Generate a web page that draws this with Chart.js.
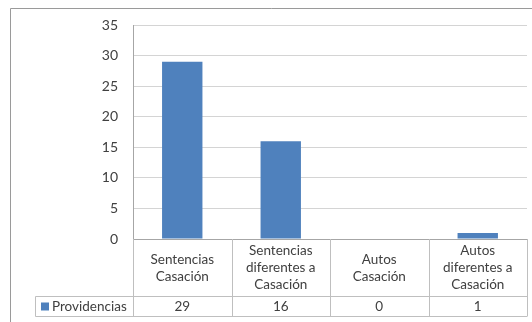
<!DOCTYPE html>
<html>
<head>
<meta charset="utf-8">
<script src="https://cdn.jsdelivr.net/npm/chart.js@4.4.0/dist/chart.umd.min.js"></script>
<style>
  html, body { margin: 0; padding: 0; background: #fff; }
  #wrap { width: 532px; height: 322px; }
</style>
</head>
<body>
<div id="wrap"><canvas id="myChart"></canvas></div>
<script>
var categories = [
    ['Sentencias', 'Casación'],
    ['Sentencias', 'diferentes a', 'Casación'],
    ['Autos', 'Casación'],
    ['Autos', 'diferentes a', 'Casación']
];
var seriesName = 'Providencias';
var providencias = [29, 16, 0, 1];
var yTicks = [0, 5, 10, 15, 20, 25, 30, 35];

var barColor = '#4F81BD';
var textColor = '#404040';
var lineColor = '#BFBFBF';
var fontFamily = 'Lato, "Open Sans", sans-serif';

// data table under the plot, like a spreadsheet chart
var dataTable = {
    id: 'dataTable',
    beforeDraw: function (chart) {
        var c = chart.ctx;
        // outer frame (only top and left edges are visible)
        c.save();
        c.strokeStyle = '#9A9A9A';
        c.lineWidth = 1;
        c.beginPath();
        c.moveTo(10.5, 322);
        c.lineTo(10.5, 8.5);
        c.lineTo(532, 8.5);
        c.stroke();
        c.restore();
    },
    afterDraw: function (chart) {
        var c = chart.ctx;
        var area = chart.chartArea;
        var x = chart.scales.x;
        var top = area.bottom;
        var rowSplit = 296.5;
        var bottom = 316.5;
        var legendLeft = 35.5;
        var step = (area.right - area.left) / categories.length;

        c.save();
        c.strokeStyle = lineColor;
        c.lineWidth = 1;
        c.beginPath();
        for (var i = 0; i <= categories.length; i++) {
            var vx = Math.round(area.left + i * step) + 0.5;
            c.moveTo(vx, top);
            c.lineTo(vx, bottom);
        }
        c.moveTo(legendLeft, rowSplit);
        c.lineTo(area.right, rowSplit);
        c.moveTo(legendLeft, bottom);
        c.lineTo(area.right, bottom);
        c.moveTo(legendLeft, rowSplit);
        c.lineTo(legendLeft, bottom);
        c.stroke();

        c.fillStyle = textColor;
        c.font = '13.5px ' + fontFamily;
        c.textAlign = 'center';
        c.textBaseline = 'middle';
        var lh = 17;
        var midCat = (top + rowSplit) / 2;
        var midVal = (rowSplit + bottom) / 2;
        categories.forEach(function (lines, i) {
            var cx = x.getPixelForValue(i);
            var y0 = midCat - (lines.length - 1) * lh / 2;
            lines.forEach(function (t, j) {
                c.fillText(t, cx, y0 + j * lh);
            });
            c.fillText(String(providencias[i]), cx, midVal);
        });

        // legend key
        c.fillStyle = barColor;
        c.fillRect(41, midVal - 4, 8, 8);
        c.fillStyle = textColor;
        c.textAlign = 'left';
        c.fillText(seriesName, 52, midVal);
        c.restore();
    }
};

var ctx = document.getElementById('myChart').getContext('2d');

var myChart = new Chart(ctx, {
    type: 'bar',
    data: {
        labels: categories.map(function (l) { return l.join(' '); }),
        datasets: [{
            label: seriesName,
            data: providencias,
            backgroundColor: barColor,
            borderWidth: 0,
            categoryPercentage: 1,
            barPercentage: 0.41
        }]
    },
    options: {
        responsive: true,
        maintainAspectRatio: false,
        animation: false,
        layout: {
            padding: { left: 0, top: 25, right: 5, bottom: 83 }
        },
        plugins: {
            legend: { display: false },
            tooltip: { enabled: false }
        },
        scales: {
            x: {
                grid: { display: false, drawTicks: false },
                border: { display: true, color: '#A6A6A6' },
                ticks: { display: false }
            },
            y: {
                min: 0,
                max: 35,
                afterFit: function (scale) { scale.width = 133; },
                afterBuildTicks: function (scale) {
                    scale.ticks = yTicks.map(function (v) { return { value: v }; });
                },
                grid: { color: '#D4D4D4', drawTicks: false },
                border: { display: true, color: '#A6A6A6' },
                ticks: {
                    padding: 15,
                    color: textColor,
                    font: { family: fontFamily, size: 14 }
                }
            }
        }
    },
    plugins: [dataTable]
});
</script>
</body>
</html>
